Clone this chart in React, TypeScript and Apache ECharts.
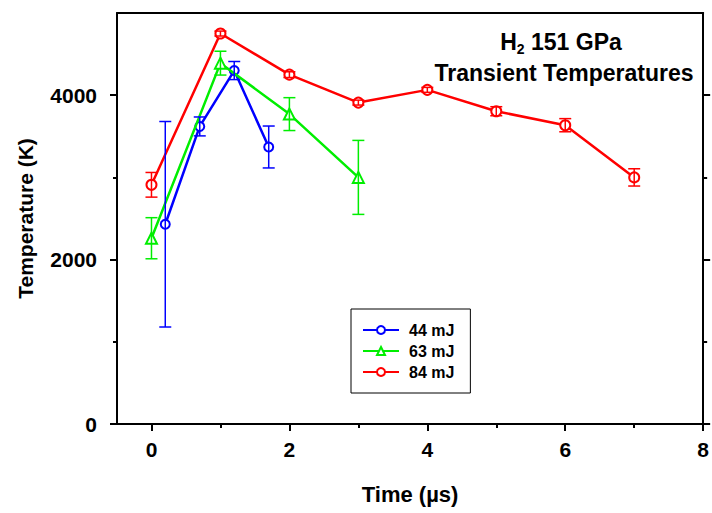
import React, { useEffect, useRef } from "react";
import * as echarts from "echarts";

const FONT = "'Liberation Sans', Arial, Helvetica, sans-serif";

const seriesNames = ["44 mJ", "63 mJ", "84 mJ"];
const seriesColors = ["#0000ff", "#00ee00", "#ff0000"];

const blueX = [0.2, 0.7, 1.2, 1.7];
const blueT = [2430, 3620, 4300, 3370];
const blueErr = [1250, 115, 110, 255];

const greenX = [0, 1, 2, 3];
const greenT = [2260, 4390, 3770, 3000];
const greenErr = [250, 145, 200, 450];

const redX = [0, 1, 2, 3, 4, 5, 6, 7];
const redT = [2910, 4750, 4250, 3910, 4065, 3805, 3635, 3000];
const redErr = [150, 30, 35, 30, 30, 55, 80, 105];

const xMajor = [0, 2, 4, 6, 8];
const xMinor = [1, 3, 5, 7];
const yMajor = [0, 2000, 4000];
const yMinor = [1000, 3000];

const groups = [
  { x: blueX, t: blueT, e: blueErr, symbol: "emptyCircle", size: 9 },
  { x: greenX, t: greenT, e: greenErr, symbol: "emptyTriangle", size: 11 },
  { x: redX, t: redT, e: redErr, symbol: "emptyCircle", size: 10 },
];

export default function App() {
  const ref = useRef<HTMLDivElement>(null);
  useEffect(() => {
    if (!ref.current) return;
    const chart = echarts.init(ref.current, null, { renderer: "svg" });
    const axisLineStyle = { color: "#000", width: 2 };
    const lineSeries: any[] = groups.map((g, i) => ({
      name: seriesNames[i],
      type: "line",
      xAxisIndex: 0,
      yAxisIndex: 0,
      data: g.x.map((x, j) => [x, g.t[j]]),
      symbol: g.symbol,
      symbolSize: g.size,
      lineStyle: { color: seriesColors[i], width: 2.5 },
      itemStyle: { color: seriesColors[i], borderWidth: 1.5 },
      z: 3 + i,
    }));
    const errSeries: any[] = groups.map((g, i) => ({
      name: "err" + i,
      type: "custom",
      xAxisIndex: 0,
      yAxisIndex: 0,
      data: g.x.map((x, j) => [x, g.t[j] - g.e[j], g.t[j] + g.e[j]]),
      encode: { x: 0, y: [1, 2] },
      z: 10 + i,
      renderItem: (params: any, api: any) => {
        const x = api.value(0);
        const lo = api.coord([x, api.value(1)]);
        const hi = api.coord([x, api.value(2)]);
        const w = 6;
        const st = { stroke: seriesColors[i], lineWidth: 1.5 };
        return {
          type: "group",
          children: [
            { type: "line", shape: { x1: hi[0], y1: hi[1], x2: lo[0], y2: lo[1] }, style: st },
            { type: "line", shape: { x1: hi[0] - w, y1: hi[1], x2: hi[0] + w, y2: hi[1] }, style: st },
            { type: "line", shape: { x1: lo[0] - w, y1: lo[1], x2: lo[0] + w, y2: lo[1] }, style: st },
          ],
        };
      },
    }));
    const labelStyle = { fontSize: 21, fontWeight: "bold", color: "#000", fontFamily: FONT };
    chart.setOption({
      animation: false,
      backgroundColor: "#fff",
      grid: { left: 117, right: 7, top: 13, bottom: 89 },
      legend: {
        data: seriesNames,
        orient: "vertical",
        left: 351,
        top: 309,
        padding: [13, 16, 13, 11],
        itemWidth: 36,
        itemHeight: 10,
        itemGap: 5,
        borderColor: "#000",
        borderWidth: 1,
        backgroundColor: "#fff",
        textStyle: { fontSize: 16, fontWeight: "bold", color: "#000", fontFamily: FONT, padding: [0, 0, 0, 5] },
      },
      xAxis: [
        {
          type: "value", min: -0.5, max: 8, position: "bottom",
          axisLine: { show: true, onZero: false, lineStyle: axisLineStyle },
          axisTick: { show: true, length: 7, customValues: xMajor, lineStyle: axisLineStyle },
          axisLabel: { ...labelStyle, margin: 15, customValues: xMajor, formatter: (v: number) => String(v) },
          splitLine: { show: false },
          name: "Time (µs)", nameLocation: "middle", nameGap: 59,
          nameTextStyle: { fontSize: 22, fontWeight: "bold", color: "#000", fontFamily: FONT },
        },
        {
          type: "value", min: -0.5, max: 8, position: "bottom",
          axisLine: { show: false, onZero: false },
          axisTick: { show: true, length: 4, customValues: xMinor, lineStyle: axisLineStyle },
          axisLabel: { show: false },
          splitLine: { show: false },
        },
        {
          type: "value", min: -0.5, max: 8, position: "top",
          axisLine: { show: true, onZero: false, lineStyle: axisLineStyle },
          axisTick: { show: false },
          axisLabel: { show: false },
          splitLine: { show: false },
        },
      ],
      yAxis: [
        {
          type: "value", min: 0, max: 5000, position: "left",
          axisLine: { show: true, onZero: false, lineStyle: axisLineStyle },
          axisTick: { show: true, length: 7, customValues: yMajor, lineStyle: axisLineStyle },
          axisLabel: { ...labelStyle, margin: 20, customValues: yMajor, formatter: (v: number) => String(v) },
          splitLine: { show: false },
          name: "Temperature (K)", nameLocation: "middle", nameGap: 81,
          nameTextStyle: { fontSize: 21, fontWeight: "bold", color: "#000", fontFamily: FONT },
        },
        {
          type: "value", min: 0, max: 5000, position: "left",
          axisLine: { show: false, onZero: false },
          axisTick: { show: true, length: 4, customValues: yMinor, lineStyle: axisLineStyle },
          axisLabel: { show: false },
          splitLine: { show: false },
        },
        {
          type: "value", min: 0, max: 5000, position: "right",
          axisLine: { show: true, onZero: false, lineStyle: axisLineStyle },
          axisTick: { show: true, length: 7, customValues: yMajor, lineStyle: axisLineStyle },
          axisLabel: { show: false },
          splitLine: { show: false },
        },
        {
          type: "value", min: 0, max: 5000, position: "right",
          axisLine: { show: false, onZero: false },
          axisTick: { show: true, length: 4, customValues: yMinor, lineStyle: axisLineStyle },
          axisLabel: { show: false },
          splitLine: { show: false },
        },
      ],
      graphic: [
        {
          type: "text", x: 561, y: 42, z: 100,
          style: {
            text: "{a|H}{s|2}{a| 151 GPa}",
            align: "center", verticalAlign: "middle",
            rich: {
              a: { fontSize: 23, fontWeight: "bold", fontFamily: FONT, fill: "#000", color: "#000" },
              s: { fontSize: 14, fontWeight: "bold", fontFamily: FONT, fill: "#000", color: "#000", padding: [14, 0, 0, 0] },
            },
          },
        },
        {
          type: "text", x: 564, y: 73, z: 100,
          style: {
            text: "Transient Temperatures",
            align: "center", verticalAlign: "middle",
            fontSize: 23, fontWeight: "bold", fontFamily: FONT, fill: "#000",
          },
        },
      ],
      series: [...lineSeries, ...errSeries],
    });
    return () => chart.dispose();
  }, []);
  return <div ref={ref} style={{ position: "fixed", left: 0, top: 0, width: 712, height: 513 }} />;
}
